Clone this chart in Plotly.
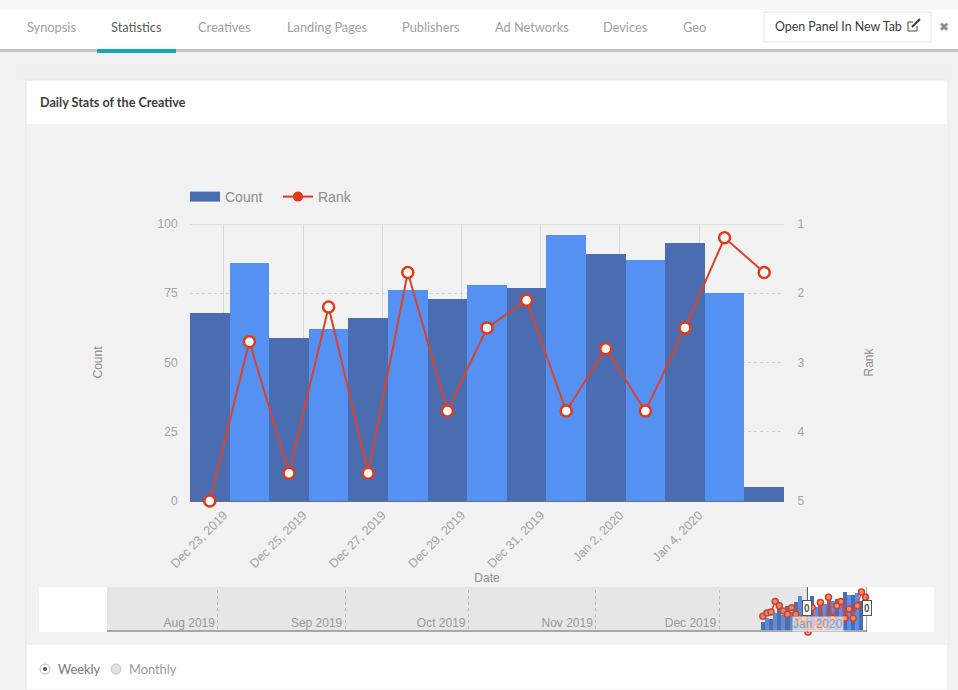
import plotly.graph_objects as go

W, H = 958, 690

# main chart data
dates = ["2019-12-22 15:30", "2019-12-23 15:30", "2019-12-24 15:30", "2019-12-25 15:30", "2019-12-26 15:30",
         "2019-12-27 15:30", "2019-12-28 15:30", "2019-12-29 15:30", "2019-12-30 15:30", "2019-12-31 15:30",
         "2020-01-01 15:30", "2020-01-02 15:30", "2020-01-03 15:30", "2020-01-04 15:30", "2020-01-05 15:30"]
count = [68, 86, 59, 62, 66, 76, 73, 78, 77, 96, 89, 87, 93, 75, 5]
rank = [5.0, 2.7, 4.6, 2.2, 4.6, 1.7, 3.7, 2.5, 2.1, 3.7, 2.8, 3.7, 2.5, 1.2, 1.7]
tick_dates = ["2019-12-23", "2019-12-25", "2019-12-27", "2019-12-29", "2019-12-31", "2020-01-02", "2020-01-04"]
tick_labels = ["Dec 23, 2019", "Dec 25, 2019", "Dec 27, 2019", "Dec 29, 2019", "Dec 31, 2019", "Jan 2, 2020", "Jan 4, 2020"]

# earlier days only visible in the navigator strip
early_dates = ["2019-12-11 15:30", "2019-12-12 15:30", "2019-12-13 15:30", "2019-12-14 15:30",
               "2019-12-15 15:30", "2019-12-16 15:30", "2019-12-17 15:30", "2019-12-18 15:30",
               "2019-12-19 15:30", "2019-12-20 15:30", "2019-12-21 15:30"]
early_count = [25, 34, 30, 45, 55, 40, 62, 48, 72, 85, 60]
early_rank = [3.5, 3.2, 3.1, 2.1, 2.5, 3.0, 3.3, 2.7, 3.3, 4.0, 3.7]
nav_ticks = ["2019-08-01", "2019-09-01", "2019-10-01", "2019-11-01", "2019-12-01"]
nav_labels = ["Aug 2019", "Sep 2019", "Oct 2019", "Nov 2019", "Dec 2019"]

tabs = ["Synopsis", "Statistics", "Creatives", "Landing Pages", "Publishers", "Ad Networks", "Devices", "Geo"]
tab_x = [25, 109, 196, 285, 400, 493, 601, 681]

DARK = "#4a6db2"
LIGHT = "#5491f3"
RED = "#df3b1a"
GREY_TXT = "#a3a3a3"
BG = "#f2f2f2"


def fx(px):
    return px / W


def fy(py):
    return 1 - py / H


def bar_colors(n):
    return [DARK if i % 2 == 0 else LIGHT for i in range(n)]


def box(x0, y0, x1, y1, fill, line=None, layer="below"):
    return dict(type="rect", xref="paper", yref="paper", x0=fx(x0), x1=fx(x1), y0=fy(y0), y1=fy(y1),
                fillcolor=fill, line=dict(color=line or fill, width=1 if line else 0), layer=layer)


def label(x, y, text, size=12.8, color="#9b9b9b", family="Lato", anchor="left", angle=0):
    return dict(xref="paper", yref="paper", x=fx(x), y=fy(y), text=text, showarrow=False, xanchor=anchor,
                yanchor="middle", textangle=angle, font=dict(family=family, size=size, color=color))


def handle(x):
    return dict(xref="x3", yref="paper", x=x, y=fy(608), text="<b>0</b>", showarrow=False, bgcolor="white",
                xanchor="center", yanchor="middle", bordercolor="#555555", borderwidth=1, borderpad=0,
                width=8, height=14, font=dict(family="Liberation Sans", size=10, color="#555555"))


fig = go.Figure()

fig.add_trace(go.Bar(x=dates, y=count, name="Count", marker=dict(color=bar_colors(len(count)), line_width=0),
                     xaxis="x", yaxis="y", showlegend=False))
fig.add_trace(go.Scatter(x=dates, y=rank, name="Rank", mode="lines+markers", xaxis="x", yaxis="y2", cliponaxis=False,
                         line=dict(color="#d8432a", width=2), showlegend=False,
                         marker=dict(size=11, color="white", line=dict(color=RED, width=2.5))))
# legend entries (swatches are solid, unlike the hollow markers in the plot)
fig.add_trace(go.Scatter(x=[None], y=[None], name="Count", mode="lines", line=dict(color=DARK, width=14),
                         xaxis="x", yaxis="y"))
fig.add_trace(go.Scatter(x=[None], y=[None], name="Rank", mode="lines+markers", xaxis="x", yaxis="y2",
                         line=dict(color=RED, width=2), marker=dict(size=10, color=RED)))

# navigator
nav_dates = early_dates + dates
nav_count = early_count + count
nav_rank = early_rank + rank
fig.add_trace(go.Bar(x=nav_dates, y=nav_count, marker=dict(color=bar_colors(len(nav_count)), line_width=0),
                     xaxis="x3", yaxis="y3", showlegend=False))
fig.add_trace(go.Scatter(x=nav_dates, y=nav_rank, mode="lines+markers", xaxis="x3", yaxis="y4", cliponaxis=False,
                         line=dict(color="#e2492c", width=1.5), showlegend=False,
                         marker=dict(size=6, color="#f58a70", line=dict(color=RED, width=1.5))))

nav_start, sel_start, sel_end = "2019-07-05", "2019-12-22 12:00", "2020-01-06"

shapes = [
    box(0, 0, W, H, BG),
    box(0, 0, W, 10, "#f8f8f8"),
    box(0, 10, W, 49, "white"),
    box(0, 49, W, 52, "#c4c4c4"),
    box(16, 64, 952, 80, "#eeeeee"),
    box(26, 80, 948, H, "white", "#e6e6e6"),
    box(27, 124, 947, 645, BG),
    box(97, 49, 176, 53, "#12a7b3"),
    box(764, 12, 931, 42, "white", "#e4e4e4"),
    box(39, 587, 934, 632, "white"),
    # external link icon
    box(908, 22, 917, 31, "white", "#444444"),
    box(913, 19, 920, 26, "white"),
    dict(type="line", xref="paper", yref="paper", x0=fx(912), x1=fx(920), y0=fy(27), y1=fy(19),
         line=dict(color="#333333", width=2), layer="below"),
    # top gridline, plotly leaves it out at the end of the range
    dict(type="line", xref="paper", yref="y", x0=fx(190), x1=fx(784), y0=100, y1=100,
         line=dict(color="#dedede", width=2), layer="below"),
    # radio buttons
    dict(type="circle", xref="paper", yref="paper", x0=fx(40), x1=fx(50), y0=fy(674), y1=fy(664),
         fillcolor="white", line=dict(color="#bbbbbb", width=1), layer="below"),
    dict(type="circle", xref="paper", yref="paper", x0=fx(43), x1=fx(47), y0=fy(671), y1=fy(667),
         fillcolor="#555555", line_width=0, layer="below"),
    dict(type="circle", xref="paper", yref="paper", x0=fx(111), x1=fx(121), y0=fy(674), y1=fy(664),
         fillcolor="#e2e2e2", line=dict(color="#c4c4c4", width=1), layer="below"),
    # navigator shading and handles
    dict(type="rect", xref="x3", yref="paper", x0=nav_start, x1=sel_start, y0=fy(632), y1=fy(587),
         fillcolor="rgba(120,120,120,0.19)", line_width=0, layer="above"),
    dict(type="rect", xref="x3", yref="paper", x0=nav_start, x1=sel_end, y0=fy(632), y1=fy(630),
         fillcolor="#a8a8a8", line_width=0, layer="above"),
    dict(type="line", xref="x3", yref="paper", x0=sel_start, x1=sel_start, y0=fy(632), y1=fy(587),
         line=dict(color="#555555", width=1), layer="above"),
    dict(type="line", xref="x3", yref="paper", x0=sel_end, x1=sel_end, y0=fy(632), y1=fy(587),
         line=dict(color="#555555", width=1), layer="above"),
]

annotations = [label(x, 27, t, color="#555f5f" if t == "Statistics" else "#a0a0a0") for x, t in zip(tab_x, tabs)]
annotations += [
    label(773, 27, "Open Panel In New Tab", size=12.4, color="#3a3a3a"),
    label(944, 27, "✖", size=12, color="#8a8a8a", family="DejaVu Sans", anchor="center"),
    label(38, 102, "<b>Daily Stats of the Creative</b>", size=12.6, color="#3d3d3d"),
    label(56, 669, "Weekly", color="#777777"),
    label(127, 669, "Monthly", color="#9a9a9a"),
    # the January label sits above the navigator bars on a pale patch
    dict(xref="x3", yref="paper", x="2019-12-31 12:00", y=fy(624), text="Jan 2020", showarrow=False, xanchor="right",
         yanchor="middle", bgcolor="rgba(255,255,255,0.65)", borderpad=0,
         font=dict(family="Liberation Sans", size=12, color="#9a9a9a")),
    handle(sel_start),
    handle(sel_end),
]

axis_font = dict(family="Liberation Sans", size=12, color=GREY_TXT)
title_font = dict(family="Liberation Sans", size=12, color="#8c8c8c")

fig.update_layout(
    width=W, height=H, autosize=False,
    margin=dict(l=0, r=0, t=0, b=0),
    paper_bgcolor=BG, plot_bgcolor="rgba(0,0,0,0)",
    barmode="overlay", bargap=0,
    hovermode=False,
    shapes=shapes, annotations=annotations,
    legend=dict(orientation="h", x=fx(185), y=fy(181), xanchor="left", yanchor="top", bgcolor="rgba(0,0,0,0)",
                font=dict(family="Liberation Sans", size=14, color="#8c8c8c"), traceorder="normal", itemwidth=30,
                entrywidth=48, entrywidthmode="pixels"),
    xaxis=dict(domain=[fx(190), fx(784)], anchor="y", range=["2019-12-22 03:30", "2020-01-06 03:30"],
               type="date", tickvals=tick_dates, ticktext=tick_labels, tickangle=-45,
               tickfont=dict(family="Liberation Sans", size=12.5, color=GREY_TXT),
               showgrid=True, gridcolor="#d8d8d8", gridwidth=1, ticks="outside", ticklen=1,
               tickcolor="rgba(0,0,0,0)", showline=False, zeroline=False, automargin=False,
               title=dict(text="Date", font=title_font, standoff=3)),
    yaxis=dict(domain=[fy(501), fy(224)], anchor="x", range=[0, 100], tick0=0, dtick=25, tickfont=axis_font,
               gridcolor="#cfcfcf", griddash="dot", showline=False, zeroline=True, zerolinecolor="#5f6f8f",
               zerolinewidth=1.5, ticklen=9, ticks="outside", tickcolor="rgba(0,0,0,0)", automargin=False,
               title=dict(text="Count", font=title_font, standoff=52)),
    yaxis2=dict(domain=[fy(501), fy(224)], anchor="x", overlaying="y", side="right", range=[5, 1], tick0=1, dtick=1,
                tickfont=axis_font, showgrid=False, zeroline=False, ticks="outside", ticklen=10,
                tickcolor="rgba(0,0,0,0)", automargin=False,
                title=dict(text="Rank", font=title_font, standoff=61)),
    xaxis3=dict(domain=[fx(107), fx(867)], anchor="y3", range=[nav_start, sel_end], type="date",
                tickvals=nav_ticks, ticktext=nav_labels, ticklabelposition="inside left",
                ticklabelshift=-3, ticklabelstandoff=-3,
                tickfont=dict(family="Liberation Sans", size=12, color="#a0a0a0"),
                showgrid=True, griddash="dot", gridcolor="#c8c8c8", ticks="", showline=False, zeroline=False,
                automargin=False),
    yaxis3=dict(domain=[fy(632), fy(590)], anchor="x3", range=[0, 100], visible=False, automargin=False),
    yaxis4=dict(domain=[fy(632), fy(590)], anchor="x3", overlaying="y3", range=[5, 1], visible=False,
                automargin=False),
)

fig.write_html("out.html", config=dict(displayModeBar=False),
               post_script="document.body.style.margin='0';")
